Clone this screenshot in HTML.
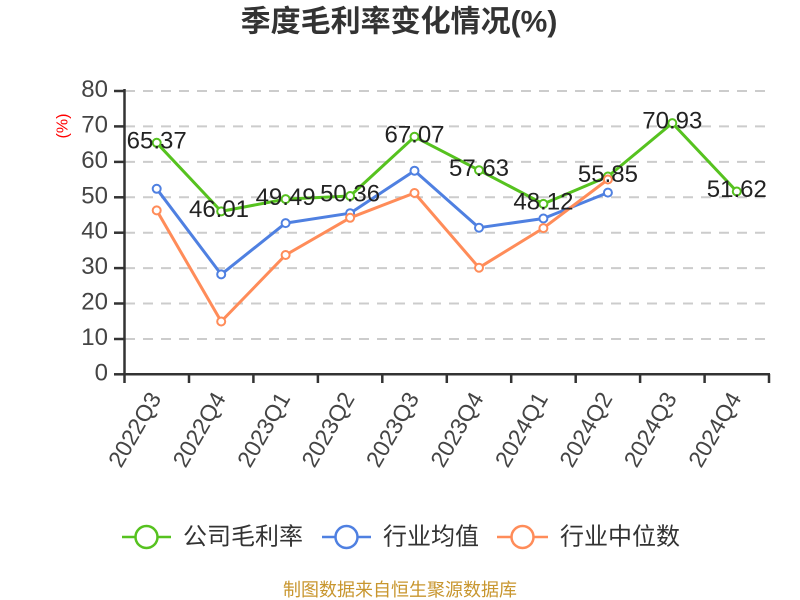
<!DOCTYPE html>
<html><head><meta charset="utf-8"><style>
html,body{margin:0;padding:0;background:#fff;}
svg{display:block;}
text{font-family:"Liberation Sans","Noto Sans CJK SC",sans-serif;}
</style></head><body>
<svg width="800" height="600" viewBox="0 0 800 600" xmlns="http://www.w3.org/2000/svg">
<rect width="800" height="600" fill="#fff"/>
<text x="399" y="22" text-anchor="middle" dominant-baseline="central" font-size="30" font-weight="bold" fill="#333">季度毛利率变化情况(%)</text>
<text transform="translate(63,126) rotate(-90)" text-anchor="middle" dominant-baseline="central" font-size="16" fill="#ff0000">(%)</text>
<g stroke="#ccc" stroke-width="2" stroke-dasharray="10,8">
<line x1="125" y1="91" x2="769" y2="91"/>
<line x1="125" y1="126.4" x2="769" y2="126.4"/>
<line x1="125" y1="161.9" x2="769" y2="161.9"/>
<line x1="125" y1="197.3" x2="769" y2="197.3"/>
<line x1="125" y1="232.7" x2="769" y2="232.7"/>
<line x1="125" y1="268.1" x2="769" y2="268.1"/>
<line x1="125" y1="303.5" x2="769" y2="303.5"/>
<line x1="125" y1="339" x2="769" y2="339"/>
</g>
<g font-size="24" fill="#444" text-anchor="end">
<text x="108" y="97">80</text>
<text x="108" y="132.4">70</text>
<text x="108" y="167.9">60</text>
<text x="108" y="203.3">50</text>
<text x="108" y="238.7">40</text>
<text x="108" y="274.1">30</text>
<text x="108" y="309.5">20</text>
<text x="108" y="345">10</text>
<text x="108" y="380.3">0</text>
</g>
<g stroke="#333" stroke-width="2.5" fill="none">
<line x1="124.5" y1="89" x2="124.5" y2="375.5"/>
<line x1="123" y1="374.3" x2="770" y2="374.3"/>
<line x1="114" y1="91" x2="124.5" y2="91"/>
<line x1="114" y1="126.4" x2="124.5" y2="126.4"/>
<line x1="114" y1="161.9" x2="124.5" y2="161.9"/>
<line x1="114" y1="197.3" x2="124.5" y2="197.3"/>
<line x1="114" y1="232.7" x2="124.5" y2="232.7"/>
<line x1="114" y1="268.1" x2="124.5" y2="268.1"/>
<line x1="114" y1="303.5" x2="124.5" y2="303.5"/>
<line x1="114" y1="339" x2="124.5" y2="339"/>
<line x1="114" y1="374.3" x2="124.5" y2="374.3"/>
<line x1="124.5" y1="374" x2="124.5" y2="383"/>
<line x1="189" y1="374" x2="189" y2="383"/>
<line x1="253.4" y1="374" x2="253.4" y2="383"/>
<line x1="317.9" y1="374" x2="317.9" y2="383"/>
<line x1="382.3" y1="374" x2="382.3" y2="383"/>
<line x1="446.8" y1="374" x2="446.8" y2="383"/>
<line x1="511.2" y1="374" x2="511.2" y2="383"/>
<line x1="575.7" y1="374" x2="575.7" y2="383"/>
<line x1="640.1" y1="374" x2="640.1" y2="383"/>
<line x1="704.6" y1="374" x2="704.6" y2="383"/>
<line x1="769" y1="374" x2="769" y2="383"/>
</g>
<g font-size="23" fill="#444" text-anchor="end" dominant-baseline="central">
<text transform="translate(155,394) rotate(-60)">2022Q3</text>
<text transform="translate(219.5,394) rotate(-60)">2022Q4</text>
<text transform="translate(284,394) rotate(-60)">2023Q1</text>
<text transform="translate(348.4,394) rotate(-60)">2023Q2</text>
<text transform="translate(412.8,394) rotate(-60)">2023Q3</text>
<text transform="translate(477.3,394) rotate(-60)">2023Q4</text>
<text transform="translate(541.7,394) rotate(-60)">2024Q1</text>
<text transform="translate(606.2,394) rotate(-60)">2024Q2</text>
<text transform="translate(670.6,394) rotate(-60)">2024Q3</text>
<text transform="translate(735.1,394) rotate(-60)">2024Q4</text>
</g>
<!-- green -->
<polyline fill="none" stroke="#56c21f" stroke-width="3" stroke-linejoin="round" points="156.7,142.8 221.2,211.4 285.6,199.1 350.1,196 414.5,136.8 479,170.2 543.4,203.9 607.9,176.5 672.3,123.1 736.8,191.5"/>
<g fill="#fff" stroke="#56c21f" stroke-width="2">
<circle cx="156.7" cy="142.8" r="4"/><circle cx="221.2" cy="211.4" r="4"/><circle cx="285.6" cy="199.1" r="4"/><circle cx="350.1" cy="196" r="4"/><circle cx="414.5" cy="136.8" r="4"/><circle cx="479" cy="170.2" r="4"/><circle cx="543.4" cy="203.9" r="4"/><circle cx="607.9" cy="176.5" r="4"/><circle cx="672.3" cy="123.1" r="4"/><circle cx="736.8" cy="191.5" r="4"/>
</g>
<!-- blue -->
<polyline fill="none" stroke="#4f80e1" stroke-width="3" stroke-linejoin="round" points="156.7,188.8 221.2,274.4 285.6,223.1 350.1,213.2 414.5,170.7 479,227.7 543.4,218.5 607.9,192.6"/>
<g fill="#fff" stroke="#4f80e1" stroke-width="2">
<circle cx="156.7" cy="188.8" r="4"/><circle cx="221.2" cy="274.4" r="4"/><circle cx="285.6" cy="223.1" r="4"/><circle cx="350.1" cy="213.2" r="4"/><circle cx="414.5" cy="170.7" r="4"/><circle cx="479" cy="227.7" r="4"/><circle cx="543.4" cy="218.5" r="4"/><circle cx="607.9" cy="192.6" r="4"/>
</g>
<!-- orange -->
<polyline fill="none" stroke="#ff8c59" stroke-width="3" stroke-linejoin="round" points="156.7,210.4 221.2,321.5 285.6,255 350.1,217.8 414.5,193 479,267.7 543.4,228.1 607.9,179.5"/>
<g fill="#fff" stroke="#ff8c59" stroke-width="2">
<circle cx="156.7" cy="210.4" r="4"/><circle cx="221.2" cy="321.5" r="4"/><circle cx="285.6" cy="255" r="4"/><circle cx="350.1" cy="217.8" r="4"/><circle cx="414.5" cy="193" r="4"/><circle cx="479" cy="267.7" r="4"/><circle cx="543.4" cy="228.1" r="4"/><circle cx="607.9" cy="179.5" r="4"/>
</g>
<g font-size="24" fill="#222" text-anchor="middle">
<text x="156.7" y="148.5">65.37</text>
<text x="219" y="217">46.01</text>
<text x="285.6" y="204.8">49.49</text>
<text x="350.1" y="201.5">50.36</text>
<text x="414.5" y="142.5">67.07</text>
<text x="479" y="175.8">57.63</text>
<text x="543.4" y="209.5">48.12</text>
<text x="607.9" y="182">55.85</text>
<text x="672.3" y="128.7">70.93</text>
<text x="736.8" y="197">51.62</text>
</g>
<!-- legend -->
<g stroke-width="2.5" fill="#fff">
<line x1="122" y1="537" x2="171" y2="537" stroke="#56c21f"/>
<circle cx="146.5" cy="537" r="11" stroke="#56c21f"/>
<line x1="322" y1="537" x2="371" y2="537" stroke="#4f80e1"/>
<circle cx="346.5" cy="537" r="11" stroke="#4f80e1"/>
<line x1="497" y1="537" x2="548" y2="537" stroke="#ff8c59"/>
<circle cx="522.5" cy="537" r="11" stroke="#ff8c59"/>
</g>
<g font-size="24" fill="#333" dominant-baseline="central">
<text x="183" y="537">公司毛利率</text>
<text x="383" y="537">行业均值</text>
<text x="560" y="537">行业中位数</text>
</g>
<text x="283" y="590" dominant-baseline="central" font-size="18" fill="#c8962e">制图数据来自恒生聚源数据库</text>
</svg>
</body></html>
